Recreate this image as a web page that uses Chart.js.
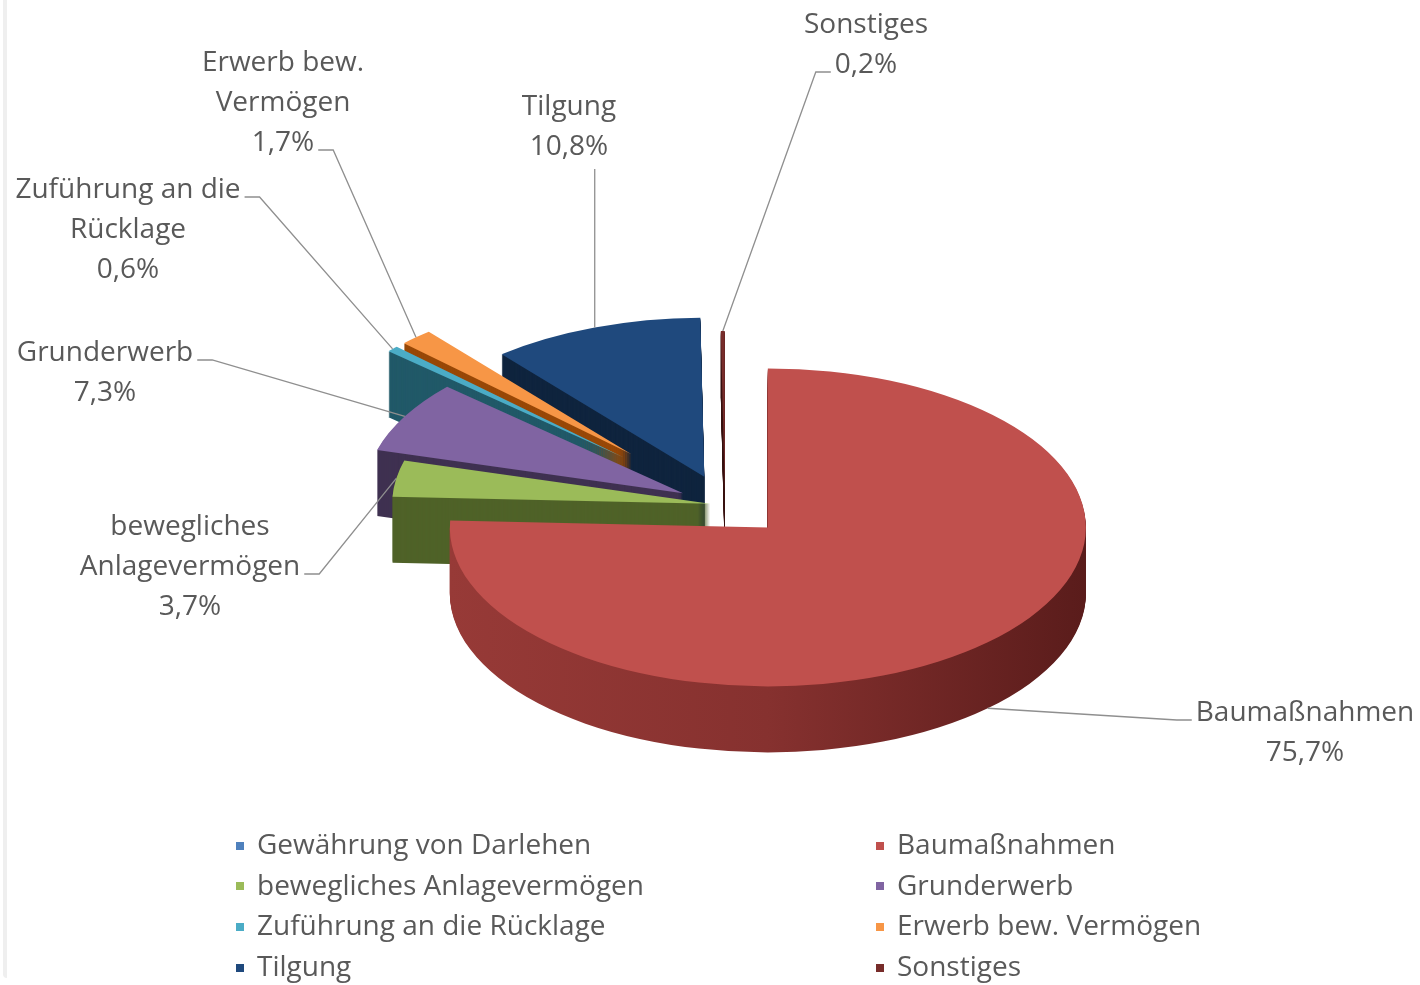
<!DOCTYPE html>
<html lang="de">
<head>
<meta charset="utf-8">
<title>Ausgaben Vermögenshaushalt</title>
<script src="https://cdn.jsdelivr.net/npm/chart.js@4.4.1/dist/chart.umd.min.js"></script>
<style>
	html, body { margin: 0; padding: 0; background: #fff; }
	#rahmen { position: relative; width: 1420px; height: 985px; overflow: hidden; }
	#kante { position: absolute; left: 3px; top: 0; width: 4px; height: 978px; background: #efefef; border-bottom-left-radius: 4px; }
	#legende {
		position: absolute; left: 236px; top: 823px;
		display: grid; grid-template-columns: 640px 520px;
		font-family: 'Open Sans', sans-serif; font-size: 28px; color: #595959;
	}
	#legende .eintrag { height: 40.7px; line-height: 40.7px; white-space: nowrap; }
	#legende .kasten { display: inline-block; width: 8px; height: 8px; margin-right: 13px; vertical-align: middle; position: relative; top: -1px; }
</style>
</head>
<body>
<div id="rahmen">
	<canvas id="graficoVermoegen" width="1420" height="985"></canvas>
	<div id="kante"></div>
	<div id="legende"></div>
</div>
<script>
var kategorien = ['Gewährung von Darlehen', 'Baumaßnahmen', 'bewegliches Anlagevermögen', 'Grunderwerb',
	'Zuführung an die Rücklage', 'Erwerb bew. Vermögen', 'Tilgung', 'Sonstiges'];
var anteile = [0, 75.7, 3.7, 7.3, 0.6, 1.7, 10.8, 0.2];
// Beschriftung am Diagramm, umbrochen wie im Original
var beschriftungen = [[], ['Baumaßnahmen'], ['bewegliches', 'Anlagevermögen'], ['Grunderwerb'],
	['Zuführung an die', 'Rücklage'], ['Erwerb bew.', 'Vermögen'], ['Tilgung'], ['Sonstiges']];

var farben = ['#4F81BD', '#C0504D', '#9BBB59', '#8064A2', '#4BACC6', '#F79646', '#1F497D', '#772C2A'];
var seiten = ['#243F60', '#85302e', '#4F6228', '#3F3151', '#215968', '#984807', '#0F243E', '#3c1615'];
var explosion = [0, 62, 15, 48, 138, 138, 60, 30];

var RADIUS = 318, NEIGUNG = 0.5, TIEFE = 66, ZEILE = 40;
var etiketten = [
	null,
	{x: 1305, y: 713, an: 'links', zeile: 0},
	{x: 190, y: 527, an: 'rechts', zeile: 1},
	{x: 105, y: 353, an: 'rechts', zeile: 0},
	{x: 128, y: 190, an: 'rechts', zeile: 0},
	{x: 283, y: 63, an: 'rechts', zeile: 2},
	{x: 569, y: 107, an: 'unten'},
	{x: 866, y: 25, an: 'links', zeile: 1}
];

function prozent(v) {
	return v.toFixed(1).replace('.', ',') + '%';
}

function scheitel(arc, i) {
	var a = (arc.startAngle + arc.endAngle) / 2;
	return {
		a: a,
		x: arc.x + explosion[i] * Math.cos(a),
		y: arc.y + explosion[i] * NEIGUNG * Math.sin(a)
	};
}

function zeichneStueck(ctx, el, arc, i, tiefe) {
	var s = scheitel(arc, i);
	ctx.save();
	ctx.translate(s.x, s.y + tiefe);
	ctx.scale(1, NEIGUNG);
	ctx.translate(-arc.x, -arc.y);
	el.draw(ctx);
	ctx.restore();
}

var torte3d = {
	id: 'torte3d',
	beforeDatasetsDraw: function(chart) {
		var ctx = chart.ctx;
		var bogen = chart.getDatasetMeta(0).data;
		var folge = bogen.map(function(a, i) { return i; });
		folge.sort(function(p, q) {
			return Math.sin((bogen[p].startAngle + bogen[p].endAngle) / 2) - Math.sin((bogen[q].startAngle + bogen[q].endAngle) / 2);
		});
		folge.forEach(function(i) {
			var arc = bogen[i];
			if (!arc.circumference) return;
			var fuellung = seiten[i];
			if (i === 1) {
				fuellung = ctx.createLinearGradient(arc.x - RADIUS, 0, arc.x + RADIUS, 0);
				fuellung.addColorStop(0, '#973a37');
				fuellung.addColorStop(0.5, '#86312f');
				fuellung.addColorStop(1, '#5a1c1b');
			}
			var seite = Object.create(arc);
			seite.options = Object.assign({}, arc.options, {backgroundColor: fuellung, borderWidth: 0});
			for (var d = TIEFE; d > 0; d--) {
				zeichneStueck(ctx, seite, arc, i, d);
			}
			zeichneStueck(ctx, arc, arc, i, 0);
		});
		return false;
	},
	afterDraw: function(chart) {
		var ctx = chart.ctx;
		var bogen = chart.getDatasetMeta(0).data;
		ctx.save();
		ctx.font = '28px "Open Sans"';
		ctx.textAlign = 'center';
		ctx.textBaseline = 'middle';
		bogen.forEach(function(arc, i) {
			var et = etiketten[i];
			if (!et || !arc.circumference) return;
			var zeilen = beschriftungen[i].concat([prozent(anteile[i])]);
			ctx.fillStyle = '#595959';
			zeilen.forEach(function(t, z) {
				ctx.fillText(t, et.x, et.y + z * ZEILE);
			});

			var s = scheitel(arc, i);
			var ziel = {x: s.x + RADIUS * Math.cos(s.a), y: s.y + RADIUS * NEIGUNG * Math.sin(s.a)};
			if (Math.sin(s.a) > 0.3) ziel.y += TIEFE;

			var start, knick;
			if (et.an === 'unten') {
				start = {x: ziel.x, y: et.y + (zeilen.length - 1) * ZEILE + 22};
				knick = start;
			} else {
				var w = ctx.measureText(zeilen[et.zeile]).width;
				var y = et.y + et.zeile * ZEILE + 7;
				if (et.an === 'rechts') {
					start = {x: et.x + w / 2 + 4, y: y};
					knick = {x: start.x + 15, y: y};
				} else {
					start = {x: et.x - w / 2 - 4, y: y};
					knick = {x: start.x - 15, y: y};
				}
			}
			ctx.strokeStyle = '#8f8f8f';
			ctx.lineWidth = 1.3;
			ctx.beginPath();
			ctx.moveTo(start.x, start.y);
			ctx.lineTo(knick.x, knick.y);
			ctx.lineTo(ziel.x, ziel.y);
			ctx.stroke();
		});
		ctx.restore();
	}
};

$legende = document.getElementById('legende');
kategorien.forEach(function(k, i) {
	var e = document.createElement('div');
	e.className = 'eintrag';
	e.innerHTML = '<span class="kasten" style="background:' + farben[i] + '"></span>' + k;
	$legende.appendChild(e);
});

var ctx = document.getElementById('graficoVermoegen').getContext('2d');
var grafico = new Chart(ctx, {
	type: 'pie',
	data: {
		labels: kategorien,
		datasets: [{
			data: anteile,
			backgroundColor: farben,
			borderWidth: 0
		}]
	},
	options: {
		responsive: false,
		animation: false,
		radius: RADIUS,
		layout: { padding: { left: 260, right: 230, top: 135, bottom: 110 } },
		plugins: {
			legend: { display: false },
			tooltip: { enabled: false }
		}
	},
	plugins: [torte3d]
});
</script>
</body>
</html>
